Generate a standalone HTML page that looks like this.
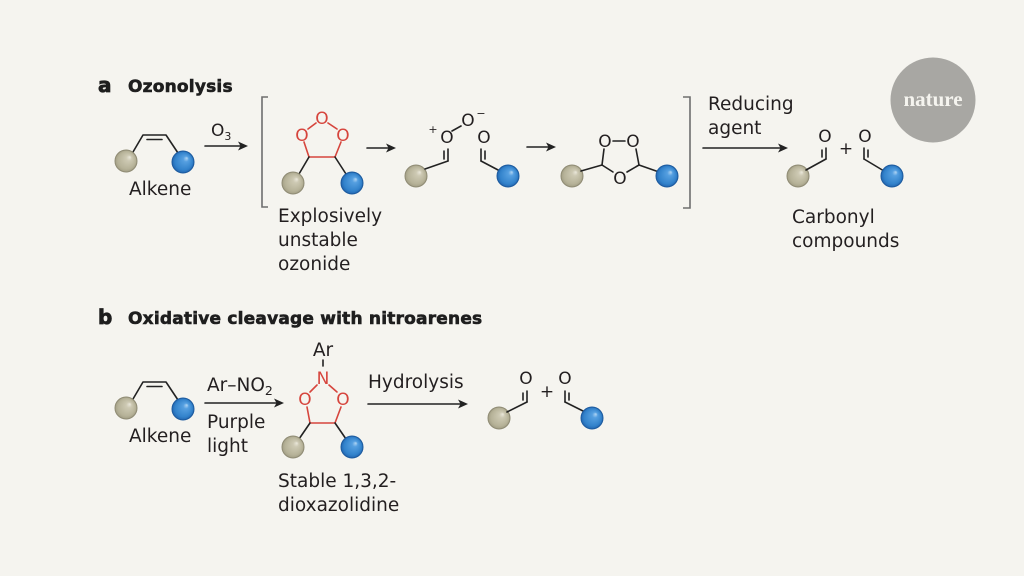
<!DOCTYPE html>
<html><head><meta charset="utf-8"><style>
html,body{margin:0;padding:0;background:#f5f4ef;}
svg{display:block;}
.t{font-family:"DejaVu Sans","Liberation Sans",sans-serif;font-size:18.5px;fill:#231f20;}
.h{font-family:"DejaVu Sans","Liberation Sans",sans-serif;font-weight:bold;font-size:17px;fill:#1e1e1e;stroke:#1e1e1e;stroke-width:0.6;letter-spacing:0.2px;}
.hl{font-family:"DejaVu Sans","Liberation Sans",sans-serif;font-weight:bold;font-size:20px;fill:#1e1e1e;stroke:#1e1e1e;stroke-width:0.8;}
.at{font-family:"DejaVu Sans","Liberation Sans",sans-serif;font-size:17px;fill:#231f20;text-anchor:middle;}
.ar{font-family:"DejaVu Sans","Liberation Sans",sans-serif;font-size:17px;fill:#d6453d;text-anchor:middle;}
.sm{font-family:"DejaVu Sans","Liberation Sans",sans-serif;font-size:11px;fill:#231f20;text-anchor:middle;}
.b{stroke:#222;stroke-width:1.6;fill:none;stroke-linecap:round;stroke-linejoin:round;}
.r{stroke:#d6453d;stroke-width:1.6;fill:none;stroke-linecap:round;stroke-linejoin:round;}
.br{stroke:#6e6e6e;stroke-width:1.6;fill:none;}
.g{fill:url(#gg);stroke:#8f8b74;stroke-width:1;}
.u{fill:url(#bg);stroke:#1c5a9e;stroke-width:1;}
.ah{fill:#222;}
</style></head><body>
<svg width="1024" height="576" viewBox="0 0 1024 576" xmlns="http://www.w3.org/2000/svg">
<defs>
<radialGradient id="gg" cx="0.5" cy="0.5" r="0.5" fx="0.68" fy="0.32">
<stop offset="0" stop-color="#ebe8dc"/><stop offset="0.25" stop-color="#cdc9b3"/><stop offset="0.8" stop-color="#b6b298"/><stop offset="1" stop-color="#a29e85"/>
</radialGradient>
<radialGradient id="bg" cx="0.5" cy="0.5" r="0.5" fx="0.68" fy="0.32">
<stop offset="0" stop-color="#b2d6f4"/><stop offset="0.25" stop-color="#559fe0"/><stop offset="0.8" stop-color="#3282cb"/><stop offset="1" stop-color="#2366b0"/>
</radialGradient>
</defs>
<rect width="1024" height="576" fill="#f5f4ef"/>

<!-- headings -->
<text class="hl" x="98" y="92">a</text>
<text class="h" x="128" y="92">Ozonolysis</text>
<text class="hl" x="98" y="324">b</text>
<text class="h" x="128" y="324">Oxidative cleavage with nitroarenes</text>

<!-- nature logo -->
<circle cx="933" cy="100" r="42.5" fill="#a8a7a3"/>
<text x="933" y="106" text-anchor="middle" style="font-family:'Liberation Serif',serif;font-weight:bold;font-size:21px;fill:#f5f4ef;">nature</text>

<!-- ===== Part a ===== -->
<polyline class="b" points="133,152 143,135 166,135 178,153"/>
<line class="b" x1="147" y1="139.5" x2="162" y2="139.5"/>
<circle class="g" cx="126" cy="161" r="11"/>
<circle class="u" cx="183" cy="162" r="11"/>
<text class="t" x="129" y="195">Alkene</text>

<!-- O3 arrow -->
<text class="at" x="211" y="136" style="text-anchor:start">O<tspan dy="4" style="font-size:11px">3</tspan></text>
<line class="b" x1="205" y1="146" x2="240" y2="146"/>
<polygon class="ah" points="248,146 238,141.5 240.5,146 238,150.5"/>

<!-- left bracket -->
<path class="br" d="M268,97 H262 V207 H268"/>

<!-- ozonide (red) -->
<text class="ar" x="322" y="124">O</text>
<text class="ar" x="302" y="141">O</text>
<text class="ar" x="343" y="141">O</text>
<line class="r" x1="316" y1="123" x2="308" y2="129"/>
<line class="r" x1="328" y1="123" x2="337" y2="129"/>
<polyline class="r" points="304,142 309,157 335,157 341,142"/>
<line class="b" x1="309" y1="157" x2="299" y2="174"/>
<line class="b" x1="335" y1="157" x2="346" y2="174"/>
<circle class="g" cx="293" cy="183" r="11"/>
<circle class="u" cx="352" cy="183" r="11"/>
<text class="t" x="278" y="222">Explosively</text>
<text class="t" x="278" y="246">unstable</text>
<text class="t" x="278" y="270">ozonide</text>

<!-- arrow 2 -->
<line class="b" x1="367" y1="148" x2="388" y2="148"/>
<polygon class="ah" points="396,148 386,143.5 388.5,148 386,152.5"/>

<!-- carbonyl oxide + aldehyde -->
<circle class="g" cx="416" cy="176" r="11"/>
<line class="b" x1="425" y1="169" x2="448" y2="161"/>
<line class="b" x1="448" y1="161" x2="448" y2="149"/>
<line class="b" x1="444" y1="151" x2="444" y2="159"/>
<text class="at" x="447" y="143">O</text>
<text class="sm" x="433" y="133">+</text>
<line class="b" x1="452" y1="131" x2="461" y2="126"/>
<text class="at" x="468" y="126">O</text>
<text class="sm" x="481" y="117">−</text>
<text class="at" x="484" y="143">O</text>
<line class="b" x1="481" y1="149" x2="481" y2="161"/>
<line class="b" x1="485" y1="151" x2="485" y2="159"/>
<line class="b" x1="481" y1="161" x2="500" y2="171"/>
<circle class="u" cx="508" cy="176" r="11"/>

<!-- arrow 3 -->
<line class="b" x1="527" y1="147" x2="548" y2="147"/>
<polygon class="ah" points="556,147 546,142.5 548.5,147 546,151.5"/>

<!-- ozonide (black) -->
<circle class="g" cx="572" cy="176" r="11"/>
<line class="b" x1="581" y1="171" x2="602" y2="165"/>
<text class="at" x="605" y="147">O</text>
<text class="at" x="633" y="147">O</text>
<line class="b" x1="613" y1="141" x2="625" y2="141"/>
<line class="b" x1="602" y1="165" x2="604" y2="149"/>
<line class="b" x1="602" y1="165" x2="613" y2="172"/>
<text class="at" x="620" y="184">O</text>
<line class="b" x1="627" y1="172" x2="639" y2="165"/>
<line class="b" x1="639" y1="165" x2="636" y2="149"/>
<line class="b" x1="639" y1="165" x2="659" y2="172"/>
<circle class="u" cx="667" cy="176" r="11"/>

<!-- right bracket -->
<path class="br" d="M683,97 H690 V208 H683"/>

<!-- reducing agent -->
<text class="t" x="708" y="110">Reducing</text>
<text class="t" x="708" y="134">agent</text>
<line class="b" x1="703" y1="148" x2="780" y2="148"/>
<polygon class="ah" points="788,148 778,143.5 780.5,148 778,152.5"/>

<!-- products a -->
<circle class="g" cx="798" cy="176" r="11"/>
<line class="b" x1="806" y1="170" x2="826" y2="159"/>
<line class="b" x1="826" y1="159" x2="826" y2="148"/>
<line class="b" x1="822" y1="150" x2="822" y2="157"/>
<text class="at" x="825" y="142">O</text>
<text class="at" x="846" y="154">+</text>
<text class="at" x="865" y="142">O</text>
<line class="b" x1="864" y1="159" x2="864" y2="148"/>
<line class="b" x1="868" y1="150" x2="868" y2="157"/>
<line class="b" x1="864" y1="159" x2="884" y2="171"/>
<circle class="u" cx="892" cy="176" r="11"/>
<text class="t" x="792" y="223">Carbonyl</text>
<text class="t" x="792" y="247">compounds</text>

<!-- ===== Part b ===== -->
<polyline class="b" points="133,399 143,382 166,382 178,400"/>
<line class="b" x1="147" y1="386.5" x2="162" y2="386.5"/>
<circle class="g" cx="126" cy="408" r="11"/>
<circle class="u" cx="183" cy="409" r="11"/>
<text class="t" x="129" y="442">Alkene</text>

<text class="t" x="207" y="391">Ar–NO<tspan dy="4" style="font-size:12.5px">2</tspan></text>
<line class="b" x1="205" y1="403" x2="276" y2="403"/>
<polygon class="ah" points="284,403 274,398.5 276.5,403 274,407.5"/>
<text class="t" x="207" y="428">Purple</text>
<text class="t" x="207" y="452">light</text>

<!-- dioxazolidine -->
<text class="t" x="323" y="356" style="text-anchor:middle">Ar</text>
<line class="b" x1="323" y1="360" x2="323" y2="366"/>
<text class="ar" x="323" y="384">N</text>
<text class="ar" x="305" y="405">O</text>
<text class="ar" x="343" y="405">O</text>
<line class="r" x1="317" y1="385" x2="310" y2="392"/>
<line class="r" x1="329" y1="385" x2="337" y2="392"/>
<polyline class="r" points="307,407 310,423 335,423 341,407"/>
<line class="b" x1="310" y1="423" x2="299" y2="439"/>
<line class="b" x1="335" y1="423" x2="346" y2="439"/>
<circle class="g" cx="293" cy="447" r="11"/>
<circle class="u" cx="352" cy="447" r="11"/>
<text class="t" x="278" y="487">Stable 1,3,2-</text>
<text class="t" x="278" y="511">dioxazolidine</text>

<!-- hydrolysis -->
<text class="t" x="368" y="388">Hydrolysis</text>
<line class="b" x1="368" y1="404" x2="460" y2="404"/>
<polygon class="ah" points="468,404 458,399.5 460.5,404 458,408.5"/>

<!-- products b -->
<circle class="g" cx="499" cy="418" r="11"/>
<line class="b" x1="507" y1="412" x2="527" y2="402"/>
<line class="b" x1="527" y1="402" x2="527" y2="391"/>
<line class="b" x1="523" y1="393" x2="523" y2="400"/>
<text class="at" x="526" y="384">O</text>
<text class="at" x="547" y="397">+</text>
<text class="at" x="565" y="384">O</text>
<line class="b" x1="565" y1="402" x2="565" y2="391"/>
<line class="b" x1="569" y1="393" x2="569" y2="400"/>
<line class="b" x1="565" y1="402" x2="585" y2="412"/>
<circle class="u" cx="592" cy="418" r="11"/>
</svg>
</body></html>
